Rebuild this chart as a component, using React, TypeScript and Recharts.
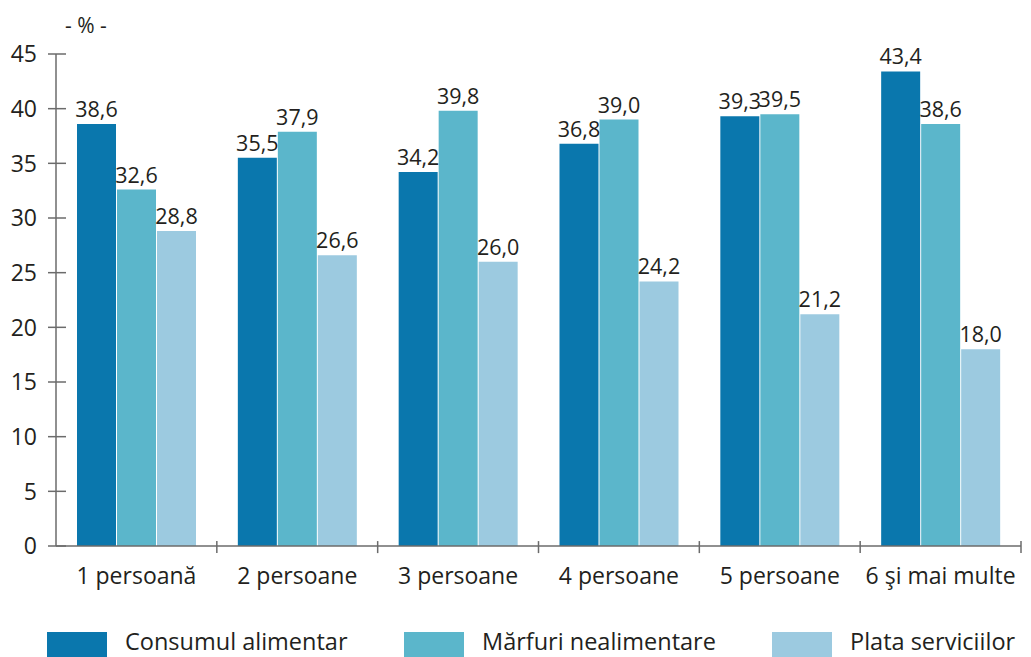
import { BarChart, Bar, XAxis, YAxis, LabelList, ReferenceLine } from 'recharts';

// categorii (mărimea gospodăriei)
const CATEGORIES = ['1 persoană', '2 persoane', '3 persoane', '4 persoane', '5 persoane', '6 şi mai multe'];

// valori pe serii, %
const CONSUM = [38.6, 35.5, 34.2, 36.8, 39.3, 43.4];
const MARFURI = [32.6, 37.9, 39.8, 39.0, 39.5, 38.6];
const SERVICII = [28.8, 26.6, 26.0, 24.2, 21.2, 18.0];

const Y_TICKS = [0, 5, 10, 15, 20, 25, 30, 35, 40, 45];

const SERIES = [
  { key: 'consum', name: 'Consumul alimentar', color: '#0a77ad' },
  { key: 'marfuri', name: 'Mărfuri nealimentare', color: '#5bb6cb' },
  { key: 'servicii', name: 'Plata serviciilor', color: '#9ccae0' },
];

const data = CATEGORIES.map((name, i) => ({
  name,
  consum: CONSUM[i],
  marfuri: MARFURI[i],
  servicii: SERVICII[i],
}));

const FONT = '"Open Sans", sans-serif';
const TEXT = '#231f20';
const AXIS = '#6b6b6b';

const fmt = (v: any) => Number(v).toFixed(1).replace('.', ',');

const YTick = ({ x, y, payload }: any) => (
  <g>
    <line x1={x + 11} x2={x + 29} y1={y} y2={y} stroke={AXIS} strokeWidth={1.5} />
    <text x={x} y={y} dy="0.36em" textAnchor="end" fontSize={23} fill={TEXT} fontFamily={FONT}>
      {payload.value}
    </text>
  </g>
);

// pozitii legenda (stil)
const LEGEND_X = [47, 404, 772];

export default function App() {
  return (
    <div style={{ position: 'absolute', left: 0, top: 0, width: 1031, height: 657, background: '#fff', fontFamily: FONT }}>
      <BarChart
        width={1031}
        height={657}
        data={data}
        margin={{ top: 54, right: 10, left: 0, bottom: 71 }}
        barCategoryGap={21}
        barGap={1}
      >
        <YAxis
          domain={[0, 45]}
          ticks={Y_TICKS}
          width={56}
          axisLine={{ stroke: AXIS, strokeWidth: 1.5 }}
          tickLine={false}
          tickSize={6}
          tickMargin={13}
          tick={<YTick />}
          interval={0}
        />
        <XAxis
          dataKey="name"
          height={40}
          axisLine={{ stroke: AXIS, strokeWidth: 1.5 }}
          tickLine={false}
          tickSize={6}
          tickMargin={16}
          interval={0}
          tick={{ fontSize: 23, fill: TEXT, fontFamily: FONT }}
        />
        {CATEGORIES.slice(1).map((c) => (
          <ReferenceLine
            key={c}
            segment={[{ x: c, y: 0.45 }, { x: c, y: -0.65 }]}
            position="start"
            stroke={AXIS}
            strokeWidth={1.5}
            ifOverflow="visible"
          />
        ))}
        <ReferenceLine
          segment={[{ x: CATEGORIES[CATEGORIES.length - 1], y: 0.45 }, { x: CATEGORIES[CATEGORIES.length - 1], y: -0.65 }]}
          position="end"
          stroke={AXIS}
          strokeWidth={1.5}
          ifOverflow="visible"
        />
        {SERIES.map((s) => (
          <Bar key={s.key} dataKey={s.key} name={s.name} fill={s.color} isAnimationActive={false}>
            <LabelList
              dataKey={s.key}
              position="top"
              offset={7}
              formatter={fmt}
              style={{ fontSize: 21.5, fill: TEXT, fontFamily: FONT }}
            />
          </Bar>
        ))}
      </BarChart>

      <svg width={1031} height={657} style={{ position: 'absolute', left: 0, top: 0, pointerEvents: 'none' }}>
        <text x={86} y={33} textAnchor="middle" fontSize={21} fill={TEXT} fontFamily={FONT}>
          - % -
        </text>
        {SERIES.map((s, i) => (
          <g key={s.key}>
            <rect x={LEGEND_X[i]} y={632} width={60} height={28} fill={s.color} />
            <text x={LEGEND_X[i] + 78} y={650} fontSize={23.5} fill={TEXT} fontFamily={FONT}>
              {s.name}
            </text>
          </g>
        ))}
      </svg>
    </div>
  );
}
